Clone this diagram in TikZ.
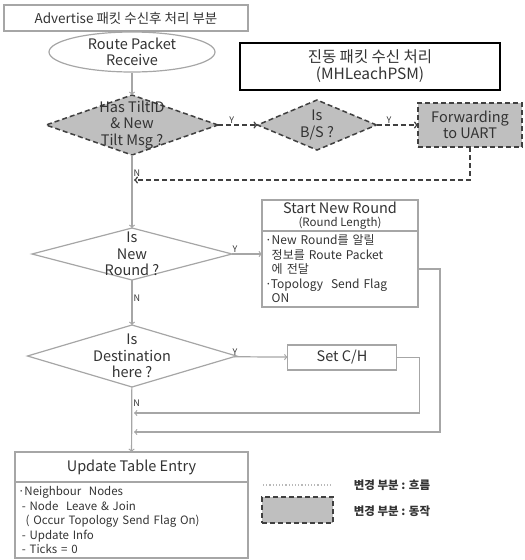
\documentclass[tikz,border=0pt]{standalone}
\usepackage{fontspec}
\setmainfont{Noto Sans CJK KR}
\usepackage{tikz}
\usetikzlibrary{arrows,shapes.geometric,positioning}

\begin{document}
\begin{tikzpicture}[x=1pt, y=-1pt, >=to, line width=1pt,
  font=\fontsize{14.5}{16.5}\selectfont, text=black!80,
  flow/.style={draw=gray!70, line width=1.2pt},
  chg/.style={draw=black!75, line width=1.5pt, dash pattern=on 5pt off 3pt},
  cond/.style={diamond, flow, inner sep=0pt, outer sep=0pt},
  chgcond/.style={diamond, chg, fill=gray!50, inner sep=0pt, outer sep=0pt},
  box/.style={rectangle, flow, inner sep=1pt, outer sep=0pt, align=center},
  chgbox/.style={rectangle, chg, fill=gray!50, inner sep=1pt, outer sep=0pt, align=center},
  listbox/.style={rectangle, flow, inner sep=3pt, outer sep=0pt, align=left},
  lab/.style={font=\fontsize{9}{10}\selectfont, inner sep=1pt}]
\useasboundingbox (0,0) rectangle (525,560);
%%%%% Headers %%%%%
\node[box, minimum width=244, minimum height=26, font=\fontsize{13.5}{15}\selectfont]
  (title) at (126,18) {Advertise 패킷 수신후 처리 부분};
\node[draw=black, line width=2.2pt, minimum width=260, minimum height=47, align=center,
  font=\fontsize{15.5}{17}\selectfont] (psm) at (370,66.5) {진동 패킷 수신 처리\\(MHLeachPSM)};
%%%%% Changed part %%%%%
\node[ellipse, flow, minimum width=166, minimum height=40, inner sep=0pt]
  (recv) at (132,52) {};
\node[align=center, inner sep=0pt] (recvtxt) at (recv.center) {Route Packet\\Receive};
\node[chgcond, minimum width=172, minimum height=60] (tilt) at (132,125) {};
\node[align=center, inner sep=0pt] (tilttxt) at (tilt.center) {Has TiltID\\\& New\\Tilt Msg ?};
\node[chgcond, minimum width=119, minimum height=50] (bs) at (317,125) {};
\node[align=center, inner sep=0pt] (bstxt) at (bs.center) {Is\\B/S ?};
\node[chgbox, minimum width=104, minimum height=44] (uart) at (470,125) {Forwarding\\to UART};
\coordinate (ret0) at (134,180);
\draw[flow,->] (recv) -- (tilt);
\draw[chg,->] (tilt) -- node[lab, above, pos=0.35] (y1) {Y} (bs);
\draw[chg,->] (bs) -- node[lab, above, pos=0.3] (y2) {Y} (uart);
\draw[chg,->] (uart.south) |- (ret0);
%%%%% Round check %%%%%
\node[cond, minimum width=200, minimum height=52] (round) at (132,254) {};
\node[align=center, inner sep=0pt] (roundtxt) at (round.center) {Is\\New\\Round ?};
\node[box, minimum width=156, minimum height=31] (snr) at (340,215.5)
  {Start New Round\\[-4pt]{\fontsize{11.5}{12}\selectfont(Round Length)}};
\node[listbox, below=0pt of snr, minimum width=156, minimum height=76, text width=150,
  font=\fontsize{12}{14.5}\selectfont] (snrbody)
  {·New Round를 알릴\\\phantom{·}정보를 Route Packet\\\phantom{·}에 전달\\·Topology~ Send Flag\\\phantom{·}ON};
\coordinate (ret1) at (134,432);
\draw[flow,->] (tilt) -- node[lab, right, pos=0.25] (n1) {N} (round);
\draw[flow,->] (round) -- node[lab, above, pos=0.1] (y3) {Y} (round.east -| snrbody.west);
\draw[flow,->] (snrbody.east) -- ++(22,0) |- (ret1);
%%%%% Destination check %%%%%
\node[cond, minimum width=209, minimum height=62] (dest) at (132,356) {};
\node[align=center, inner sep=0pt] (desttxt) at (dest.center) {Is\\Destination\\here ?};
\node[box, minimum width=109, minimum height=25] (setch) at (342,357.5) {Set C/H};
\coordinate (ret2) at (134,413);
\draw[flow,->] (round) -- node[lab, right, pos=0.4] (n2) {N} (dest);
\draw[flow,->] (dest) -- node[lab, above, pos=0.02] (y4) {Y} (setch);
\draw[flow,->] (setch.east) -- ++(23,0) |- (ret2);
%%%%% Table update %%%%%
\node[box, minimum width=233, minimum height=30] (upd) at (131.5,467) {Update Table Entry};
\node[listbox, below=0pt of upd, minimum width=233, minimum height=76, text width=227,
  font=\fontsize{11.5}{14.5}\selectfont] (updbody)
  {·Neighbour~ Nodes\\\ - Node~ Leave \& Join\\\ \ ( Occur Topology Send Flag On)\\\ - Update Info\\\ - Ticks = 0};
\draw[flow,->] (dest) -- node[lab, right, pos=0.25] (n3) {N} (upd);
%%%%% Legend %%%%%
\coordinate (lg1) at (263,485);
\coordinate (lg2) at (332,485);
\draw[gray!55, line width=1.2pt, dotted] (lg1) -- (lg2);
\node[chgbox, minimum width=71, minimum height=26] (lgbox) at (297.5,510) {};
\node[anchor=west, font=\fontsize{11.5}{13}\selectfont\bfseries] (lgflow) at (350,485) {변경 부분 : 흐름};
\node[anchor=west, font=\fontsize{11.5}{13}\selectfont\bfseries] (lgact) at (350,511) {변경 부분 : 동작};
\end{tikzpicture}
\end{document}
